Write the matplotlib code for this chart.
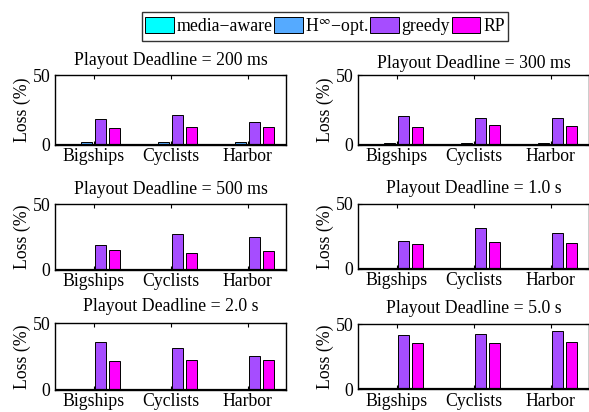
import numpy as np
import matplotlib
matplotlib.use("Agg")
from matplotlib import pyplot as plt

plt.rcParams['font.family'] = ['Liberation Serif', 'DejaVu Serif']
plt.rcParams['mathtext.fontset'] = 'stix'
plt.rcParams['font.size'] = 12.8

videos = ["Bigships", "Cyclists", "Harbor"]
titles = ["Playout Deadline = 200 ms", "Playout Deadline = 300 ms",
          "Playout Deadline = 500 ms", "Playout Deadline = 1.0 s",
          "Playout Deadline = 2.0 s", "Playout Deadline = 5.0 s"]
labels = ["media\u2212aware", "H$^{\\infty}$\u2212opt.", "greedy", "RP"]
colors = ["#00FFFF", "#55AAFF", "#A64DFF", "#FF00FF"]

# loss (%) per panel, per video
media_aware = [[0, 0, 0], [0, 0, 0], [0, 0, 0], [0, 0, 0], [0, 0, 0], [0, 0, 0]]
h_opt = [[1.7, 1.7, 1.7], [1.0, 1.0, 0.9], [0.2, 0.2, 0.2], [0, 0, 0], [0, 0, 0], [0, 0, 0]]
greedy = [[18.6, 21.4, 16.0], [20.7, 19.2, 19.0], [19.0, 27.2, 25.4],
          [21.1, 31.4, 27.6], [36.2, 31.2, 25.5], [42.0, 42.3, 45.1]]
rp = [[11.7, 12.6, 12.9], [12.7, 13.9, 13.2], [15.0, 13.2, 14.5],
      [19.0, 20.6, 19.8], [21.7, 22.5, 22.2], [35.4, 35.4, 36.4]]

W, H = 589, 412
fig = plt.figure(figsize=(W / 100, H / 100), dpi=100)

# axes boxes in pixels: left, top, right, bottom
boxes = [(55, 75, 286, 144.7), (358, 75.3, 589, 144.7),
         (55, 204.3, 286, 270), (358, 204, 589, 268.7),
         (55, 323.3, 286, 390), (358, 324.3, 589, 389.3)]
title_pads = [7.2, 5.0, 7.2, 8.0, 8.6, 8.0]

x = np.arange(1, 4)
step = 0.182
width = 0.8 * step
handles = None
for k in range(6):
    l, t, r, b = boxes[k]
    ax = fig.add_axes([l / W, 1 - b / H, (r - l) / W, (b - t) / H])
    series = [media_aware[k], h_opt[k], greedy[k], rp[k]]
    bars = []
    for i, vals in enumerate(series):
        bc = ax.bar(x + (i - 1.5) * step, vals, width, color=colors[i],
                    edgecolor='black', linewidth=0.7, label=labels[i])
        bars.append(bc)
    if handles is None:
        handles = bars
    ax.axhline(0, color='black', linewidth=1.6)
    ax.set_xlim(0.5, 3.5)
    ax.set_ylim(0, 50)
    ax.set_yticks([0, 50])
    ax.set_xticks(x)
    ax.set_xticklabels(videos)
    ax.set_ylabel("Loss (%)", labelpad=1)
    ax.set_title(titles[k], pad=title_pads[k], fontsize=12.8)
    ax.tick_params(direction='in', top=True, right=True, length=3)
    ax.tick_params(axis='y', pad=3.5)
    ax.tick_params(axis='x', pad=2.5)
    for s in ax.spines.values():
        s.set_linewidth(1.0)

leg = fig.legend(handles, labels, loc='center', bbox_to_anchor=(325 / W, 1 - 26.5 / H),
                 ncol=4, frameon=True, fancybox=False, edgecolor='black',
                 prop={'family': ['Liberation Serif', 'DejaVu Serif'], 'size': 12.8},
                 handlelength=1.6, handleheight=1.0, handletextpad=0.15,
                 columnspacing=0.1, borderpad=0.2, borderaxespad=0)
leg.get_frame().set_linewidth(1.0)

fig.savefig("out.png", dpi=100)
